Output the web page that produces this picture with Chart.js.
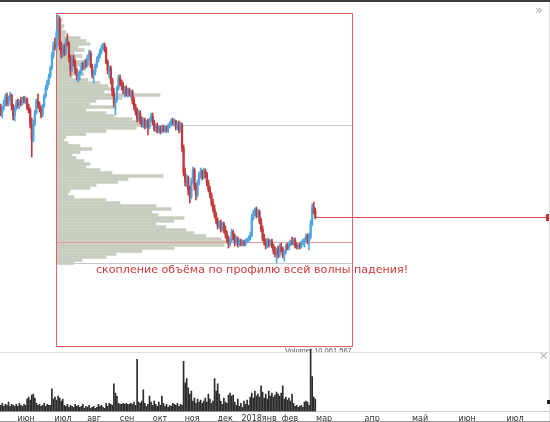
<!DOCTYPE html>
<html>
<head>
<meta charset="utf-8">
<script src="https://cdn.jsdelivr.net/npm/chart.js@4.4.1/dist/chart.umd.min.js"></script>
<style>
  body { margin: 0; background: #fff; }
  #wrap { position: relative; width: 550px; height: 422px; overflow: hidden; background: #fff; font-family: 'DejaVu Sans', sans-serif; }
  canvas { position: absolute; }
  .rule { position: absolute; }
  #note { position: absolute; left: 96px; top: 263px; font-size: 11.1px; color: #d43a3a; white-space: nowrap; }
  #volClip { position: absolute; left: 285px; top: 346px; height: 6px; width: 80px; overflow: hidden; }
  #volClip span { display: block; font-family: 'Liberation Sans', sans-serif; font-size: 7.5px; line-height: 9px; color: #555; white-space: nowrap; }
  .glyph { position: absolute; color: #aaa; }
</style>
</head>
<body>
<div id="wrap">
  <canvas id="profile" width="296" height="351" style="left:56px;top:0"></canvas>
  <canvas id="price" width="550" height="351" style="left:0;top:0"></canvas>
  <div id="volClip"><span>Volume: 10 061 567</span></div>
  <div class="rule" style="left:0;top:352px;width:550px;height:1px;background:#e2e2e2"></div>
  <canvas id="volume" width="550" height="81" style="left:0;top:346px"></canvas>
  <div class="rule" style="left:0;top:0;width:550px;height:2px;background:#3c3c3c"></div>
  <div class="rule" style="left:549px;top:2px;width:1px;height:420px;background:#e0e0e0"></div>
  <div class="rule" style="left:0;top:421px;width:550px;height:1px;background:#9a9a9a"></div>
  <div class="rule" style="left:547px;top:400px;width:3px;height:4px;background:#222"></div>
  <div id="note">скопление объёма по профилю всей волны падения!</div>
  <div class="glyph" style="left:535px;top:2px;font-size:13px">»</div>
  <div class="glyph" style="left:539px;top:349px;font-size:11px">×</div>
</div>
<script>
// daily candles, price in chart units
const opens = [242,238,243,248,253,246,252,255,244,234,
  242,247,245,249,247,251,249,251,243,240,
  226,210,226,238,249,245,241,235,244,254,
  262,268,274,282,295,305,303,317,330,304,
  296,302,297,309,307,292,280,291,288,279,
  274,276,278,284,282,287,285,293,297,284,
  276,278,284,290,294,299,302,305,301,288,
  279,282,270,258,247,250,262,272,266,264,
  260,262,256,260,257,258,249,243,238,231,
  237,229,226,230,224,228,223,230,234,228,
  221,224,219,222,219,223,220,222,219,224,
  226,229,227,229,223,226,220,225,202,177,
  168,172,160,153,169,180,164,155,167,175,
  178,173,179,176,167,161,155,147,141,135,
  129,124,127,121,126,120,116,111,106,110,
  118,113,107,111,106,109,106,108,106,109,
  110,112,115,132,137,140,135,138,129,121,
  112,109,104,108,106,109,104,99,96,100,
  95,103,101,95,98,104,102,106,109,107,
  110,104,103,105,103,107,109,110,114,109,
  113,126,143,139];
const highs = [246,244,250,256,257,254,258,256,246,244,
  250,251,250,253,253,254,253,252,246,242,
  232,230,240,251,256,248,244,246,256,265,
  270,276,284,298,308,312,320,335,333,308,
  305,306,312,316,308,295,294,295,290,282,
  278,280,287,288,290,291,295,300,299,286,
  280,286,293,296,301,305,307,307,303,290,
  284,284,272,262,252,264,275,275,270,268,
  264,264,262,262,260,260,253,246,242,240,
  239,233,232,232,230,231,232,237,237,230,
  226,227,224,224,225,225,224,224,226,228,
  231,232,231,230,228,229,228,227,205,182,
  175,174,164,172,183,182,167,170,178,182,
  180,182,181,178,170,164,157,151,145,138,
  132,129,130,128,128,124,119,114,112,121,
  120,116,114,113,111,111,110,110,111,112,
  114,118,136,140,142,143,141,140,132,124,
  116,111,112,111,110,111,106,103,102,104,
  106,107,103,100,106,107,108,110,113,112,
  112,107,106,107,109,111,112,116,116,117,
  130,146,148,142];
const lows = [234,232,240,244,244,244,249,240,230,229,
  240,242,241,244,245,247,246,240,237,222,
  193,208,224,236,242,238,232,233,242,252,
  260,265,272,280,292,300,301,314,300,292,
  293,294,295,304,288,274,278,284,276,270,
  268,270,276,280,280,282,283,290,282,272,
  267,275,282,288,292,296,300,298,286,276,
  272,266,254,243,235,248,260,264,260,256,
  253,254,253,254,252,246,240,235,228,229,
  226,223,222,221,222,215,221,228,225,219,
  218,217,217,216,217,218,217,218,217,222,
  224,225,224,220,220,217,218,198,174,164,
  163,155,147,151,167,160,150,153,165,172,
  170,171,172,164,158,152,144,138,132,126,
  121,122,118,119,117,112,108,102,104,108,
  110,104,105,103,104,104,104,104,104,107,
  108,110,113,130,134,132,133,126,118,109,
  105,101,102,103,104,102,96,93,87,92,
  93,98,92,89,96,100,100,104,105,105,
  102,101,101,101,102,105,103,108,106,100,
  111,124,136,131];
const closes = [238,243,248,253,246,252,255,244,234,242,
  247,245,249,247,251,249,251,243,240,226,
  210,226,238,249,245,241,235,244,254,262,
  268,274,282,295,305,303,317,330,304,296,
  302,297,309,307,292,280,291,288,279,274,
  276,278,284,282,287,285,293,297,284,276,
  278,284,290,294,299,302,305,301,288,279,
  282,270,258,247,250,262,272,266,264,260,
  262,256,260,257,258,249,243,238,231,237,
  229,226,230,224,228,223,230,234,228,221,
  224,219,222,219,223,220,222,219,224,226,
  229,227,229,223,226,220,225,202,177,168,
  172,160,153,169,180,164,155,167,175,178,
  173,179,176,167,161,155,147,141,135,129,
  124,127,121,126,120,116,111,106,110,118,
  113,107,111,106,109,106,108,106,109,110,
  112,115,132,137,140,135,138,129,121,112,
  109,104,108,106,109,104,99,96,100,95,
  103,101,95,98,104,102,106,109,107,110,
  104,103,105,103,107,109,110,114,109,113,
  126,143,139,133];
const volumes = [6,8,5,7,6,9,5,7,6,5,
  7,5,8,6,5,7,6,12,14,11,
  16,17,13,8,6,7,5,6,8,5,
  7,6,6,22,12,14,11,15,13,10,
  12,6,5,7,4,6,5,4,7,5,
  6,4,5,7,3,5,4,6,3,4,
  5,3,4,7,5,6,4,3,8,5,
  8,7,6,27,18,15,8,7,7,8,
  7,8,7,7,8,7,9,6,51,9,
  8,10,21,8,5,7,15,9,6,10,
  7,5,9,6,15,8,5,7,4,6,
  5,8,7,6,8,5,7,6,49,28,
  32,23,17,20,10,13,8,12,9,11,
  8,10,13,9,17,12,8,10,32,20,
  27,17,10,7,13,9,8,16,18,15,
  16,9,6,12,5,8,4,10,7,11,
  6,14,18,13,20,15,17,14,25,19,
  13,17,12,20,15,18,14,16,19,17,
  15,18,25,12,14,11,13,10,17,8,
  5,6,4,5,6,4,9,10,9,6,
  61,34,14,12];

// volume profile of the whole fall (price level -> volume)
const profileLevels = [333,330,327,324,321,318,315,312,309,306,303,300,297,294,291,288,285,282,279,276,
  273,270,267,264,261,258,255,252,249,246,243,240,237,234,231,228,225,222,219,216,
  213,210,207,204,201,198,195,192,189,186,183,180,177,174,171,168,165,162,159,156,
  153,150,147,144,141,138,135,132,129,126,123,120,117,114,111,108,105,102,99,96,93,90,87];
const profileVol = [4,6,5,8,6,10,9,24,30,34,22,28,18,26,20,30,24,18,22,28,
  16,32,44,52,57,48,104,66,40,34,60,30,50,58,76,84,88,80,50,30,
  10,8,12,24,36,24,16,20,28,34,30,44,56,107,72,62,40,34,14,12,
  18,50,64,100,115,96,102,128,118,100,110,130,138,150,165,175,168,118,86,60,50,26,18];

// month ticks (slot positions on the time axis)
const monthLabels = ['июн','июл','авг','сен','окт','ноя','дек','2018янв','фев','мар','апр','май','июн','июл'];
const monthSlots = [16.3,40.2,60.2,81.5,102.8,123.5,144.8,166.7,186.7,208.7,239.7,270.6,301,332];

// annotation levels
const boxFrom = 35.7, boxTo = 226.7, boxTop = 337, boxBottom = 4;
const grayLevels = [225, 87];
const pocLevel = 108;
const lastPrice = closes[closes.length - 1];

const BLUE = '#4ea7e2', RED = '#c23a3d';
const candleColors = closes.map((c, i) => c >= opens[i] ? BLUE : RED);
const X_MIN = -0.5, X_MAX = 354.5, Y_MIN = -1, Y_MAX = 350;

const baseOpts = {
  responsive: false, animation: false, events: [],
  layout: { padding: 0 },
  plugins: { legend: { display: false }, tooltip: { enabled: false } }
};

new Chart(document.getElementById('profile'), {
  type: 'bar',
  data: { datasets: [{
    data: profileLevels.map((p, i) => ({ x: profileVol[i], y: p })),
    backgroundColor: '#c8cebf', barThickness: 3
  }]},
  options: { ...baseOpts, indexAxis: 'y',
    scales: {
      x: { type: 'linear', min: 0, max: 296, display: false, offset: false },
      y: { type: 'linear', min: Y_MIN, max: Y_MAX, display: false, offset: false }
    }
  }
});

const overlay = {
  id: 'overlay',
  beforeDatasetsDraw(chart) {
    const { ctx, scales: { x, y } } = chart;
    const px = v => Math.round(x.getPixelForValue(v)) + 0.5;
    const py = v => Math.round(y.getPixelForValue(v)) + 0.5;
    const x0 = px(boxFrom), x1 = px(boxTo);
    ctx.save();
    ctx.lineWidth = 1;
    grayLevels.forEach(l => {
      ctx.strokeStyle = '#c9c9c9';
      ctx.beginPath(); ctx.moveTo(x0, py(l)); ctx.lineTo(x1, py(l)); ctx.stroke();
    });
    ctx.strokeStyle = '#e79a9a';
    ctx.beginPath(); ctx.moveTo(x0, py(pocLevel)); ctx.lineTo(x1, py(pocLevel)); ctx.stroke();
    ctx.strokeStyle = '#e06464';
    ctx.strokeRect(x0, py(boxTop), x1 - x0, py(boxBottom) - py(boxTop));
    ctx.restore();
  },
  afterDatasetsDraw(chart) {
    const { ctx, scales: { x, y } } = chart;
    const yy = Math.round(y.getPixelForValue(lastPrice)) + 0.5;
    ctx.save();
    ctx.strokeStyle = '#d94848';
    ctx.lineWidth = 1;
    ctx.beginPath(); ctx.moveTo(x.getPixelForValue(closes.length - 1), yy); ctx.lineTo(550, yy); ctx.stroke();
    ctx.fillStyle = '#d42f2f';
    ctx.fillRect(546, yy - 3.5, 4, 7);
    ctx.restore();
  }
};

new Chart(document.getElementById('price'), {
  type: 'bar',
  data: { datasets: [
    { data: lows.map((l, i) => ({ x: i, y: [l, highs[i]] })), backgroundColor: candleColors, barThickness: 1, grouped: false },
    { data: opens.map((o, i) => ({ x: i, y: [o, closes[i]] })), backgroundColor: candleColors, barThickness: 1.6, grouped: false, minBarLength: 1 }
  ]},
  options: { ...baseOpts,
    scales: {
      x: { type: 'linear', min: X_MIN, max: X_MAX, display: false, offset: false },
      y: { type: 'linear', min: Y_MIN, max: Y_MAX, display: false }
    }
  },
  plugins: [overlay]
});

new Chart(document.getElementById('volume'), {
  type: 'bar',
  data: { datasets: [{
    data: volumes.map((v, i) => ({ x: i, y: v })),
    backgroundColor: '#2b2b2b', barThickness: 1
  }]},
  options: { ...baseOpts,
    scales: {
      x: { type: 'linear', min: X_MIN, max: X_MAX, offset: false,
        afterBuildTicks: s => { s.ticks = monthSlots.map(v => ({ value: v })); },
        ticks: { autoSkip: false, maxRotation: 0, minRotation: 0, padding: 3, color: '#333',
          font: { size: 8, family: 'DejaVu Sans' },
          callback: (v, i) => monthLabels[i] },
        grid: { display: false, drawTicks: false },
        border: { display: true, color: '#d0d0d0' }
      },
      y: { type: 'linear', min: 0, max: 64, display: false }
    }
  }
});
</script>
</body>
</html>
